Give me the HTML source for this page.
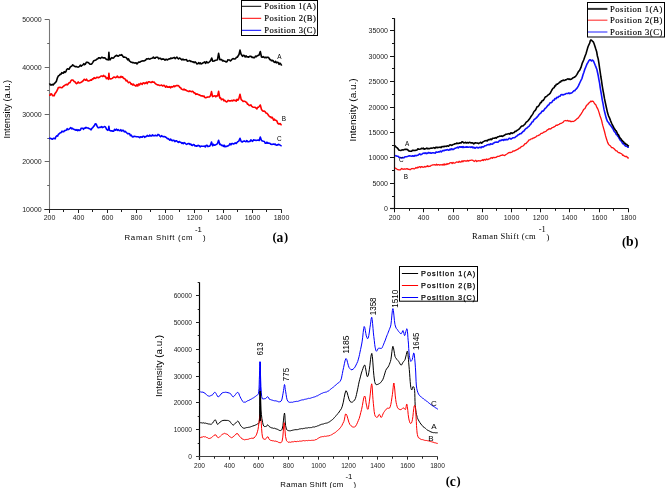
<!DOCTYPE html>
<html><head><meta charset="utf-8"><style>
html,body{margin:0;padding:0;background:#fff;}
svg{display:block;filter:blur(0.35px);}
text{font-family:"Liberation Sans",sans-serif;fill:#000;}
.tk{font-size:7px;fill:#222;}
.tkc{font-size:6.6px;fill:#222;}
.lb{font-size:6.4px;}
.lbc{font-size:8px;}
.lga{font-family:"Liberation Serif",serif;font-size:8.6px;stroke:#000;stroke-width:0.15px;}
.lgc{font-size:7.3px;stroke:#000;stroke-width:0.25px;}
.yt{font-size:9.3px;}
.xt{font-size:7.8px;}
.xts{font-family:"Liberation Serif",serif;font-size:8.5px;}
.pk{font-size:8.6px;}
.ttl{font-family:"Liberation Serif",serif;font-weight:bold;font-size:13.6px;}
</style></head>
<body><svg width="667" height="488" viewBox="0 0 667 488">
<rect width="667" height="488" fill="#fff"/>
<path d="M49.5,19.7 V209.5" fill="none" stroke="#777" stroke-width="1.1"/>
<path d="M44.3,209.5 H281.59999999999997" fill="none" stroke="#222" stroke-width="1"/>
<text x="41.7" y="211.9" class="tk" text-anchor="end">10000</text>
<path d="M47.2,185.5 H49.5" stroke="#666" stroke-width="1"/>
<path d="M44.7,161.5 H49.5" stroke="#666" stroke-width="1"/>
<text x="41.7" y="163.9" class="tk" text-anchor="end">20000</text>
<path d="M47.2,138.5 H49.5" stroke="#666" stroke-width="1"/>
<path d="M44.7,114.5 H49.5" stroke="#666" stroke-width="1"/>
<text x="41.7" y="116.9" class="tk" text-anchor="end">30000</text>
<path d="M47.2,90.5 H49.5" stroke="#666" stroke-width="1"/>
<path d="M44.7,67.5 H49.5" stroke="#666" stroke-width="1"/>
<text x="41.7" y="69.9" class="tk" text-anchor="end">40000</text>
<path d="M47.2,43.5 H49.5" stroke="#666" stroke-width="1"/>
<path d="M44.7,19.5 H49.5" stroke="#666" stroke-width="1"/>
<text x="41.7" y="21.9" class="tk" text-anchor="end">50000</text>
<path d="M49.5,209.5 V213.0" stroke="#222" stroke-width="1"/>
<text x="49.5" y="220.4" class="tk" text-anchor="middle">200</text>
<path d="M63.5,209.5 V212.0" stroke="#222" stroke-width="1"/>
<path d="M78.5,209.5 V213.0" stroke="#222" stroke-width="1"/>
<text x="78.5" y="220.4" class="tk" text-anchor="middle">400</text>
<path d="M92.5,209.5 V212.0" stroke="#222" stroke-width="1"/>
<path d="M107.5,209.5 V213.0" stroke="#222" stroke-width="1"/>
<text x="107.5" y="220.4" class="tk" text-anchor="middle">600</text>
<path d="M121.5,209.5 V212.0" stroke="#222" stroke-width="1"/>
<path d="M136.5,209.5 V213.0" stroke="#222" stroke-width="1"/>
<text x="136.5" y="220.4" class="tk" text-anchor="middle">800</text>
<path d="M150.5,209.5 V212.0" stroke="#222" stroke-width="1"/>
<path d="M165.5,209.5 V213.0" stroke="#222" stroke-width="1"/>
<text x="165.5" y="220.4" class="tk" text-anchor="middle">1000</text>
<path d="M179.5,209.5 V212.0" stroke="#222" stroke-width="1"/>
<path d="M194.5,209.5 V213.0" stroke="#222" stroke-width="1"/>
<text x="194.5" y="220.4" class="tk" text-anchor="middle">1200</text>
<path d="M208.5,209.5 V212.0" stroke="#222" stroke-width="1"/>
<path d="M223.5,209.5 V213.0" stroke="#222" stroke-width="1"/>
<text x="223.5" y="220.4" class="tk" text-anchor="middle">1400</text>
<path d="M237.5,209.5 V212.0" stroke="#222" stroke-width="1"/>
<path d="M252.5,209.5 V213.0" stroke="#222" stroke-width="1"/>
<text x="252.5" y="220.4" class="tk" text-anchor="middle">1600</text>
<path d="M266.5,209.5 V212.0" stroke="#222" stroke-width="1"/>
<path d="M281.5,209.5 V213.0" stroke="#222" stroke-width="1"/>
<text x="281.5" y="220.4" class="tk" text-anchor="middle">1800</text>
<path d="M49.5,83.3 L50.4,84.9 L51.4,85.0 L52.3,84.3 L53.2,85.0 L54.2,83.6 L55.3,82.6 L56.3,81.5 L57.3,78.2 L58.3,76.0 L59.3,75.4 L60.1,74.3 L60.9,74.5 L61.8,72.7 L62.6,73.1 L63.4,73.2 L64.2,71.7 L65.0,72.4 L65.9,71.7 L66.7,69.5 L67.5,68.8 L68.3,69.1 L69.2,69.1 L70.0,67.4 L70.9,66.5 L71.8,66.1 L72.6,64.8 L73.5,65.4 L74.3,66.2 L75.2,66.6 L76.1,66.5 L76.9,66.8 L77.8,67.1 L78.7,67.0 L79.5,66.2 L80.3,65.2 L81.2,66.2 L82.1,65.2 L82.9,64.9 L83.8,63.6 L84.6,64.7 L85.5,64.0 L86.3,62.3 L87.2,62.2 L88.0,62.5 L89.0,63.2 L90.0,64.3 L91.0,64.1 L91.8,63.9 L92.7,62.6 L93.5,61.0 L94.4,60.6 L95.2,60.2 L96.0,59.9 L96.9,59.0 L97.8,58.9 L98.6,57.7 L99.5,57.8 L100.3,58.5 L101.1,57.7 L101.9,57.2 L102.8,57.7 L103.6,57.9 L104.4,57.7 L105.4,58.2 L106.4,59.4 L107.4,59.5 L108.4,60.0 L108.9,52.2 L109.4,59.3 L110.1,59.8 L111.0,58.3 L111.9,57.6 L112.8,58.1 L113.7,57.9 L114.6,56.6 L115.5,56.0 L116.4,55.3 L117.3,55.7 L118.1,56.3 L119.0,55.7 L119.9,55.0 L120.8,55.3 L121.7,54.7 L122.5,55.8 L123.4,57.1 L124.3,57.0 L125.2,57.3 L126.0,57.5 L126.9,58.5 L127.7,59.8 L128.5,58.8 L129.4,60.8 L130.2,61.5 L131.0,62.2 L131.8,62.3 L132.7,62.8 L133.6,62.6 L134.4,63.0 L135.2,63.1 L136.1,62.8 L137.0,63.9 L137.8,63.0 L138.7,62.0 L139.6,62.2 L140.4,61.8 L141.3,61.2 L142.2,60.9 L143.0,61.0 L143.9,60.9 L144.8,60.6 L145.7,60.0 L146.5,58.9 L147.4,59.0 L148.2,58.6 L149.1,59.0 L149.9,59.1 L150.8,58.6 L151.7,58.3 L152.5,58.0 L153.4,57.1 L154.3,58.3 L155.2,58.1 L156.0,57.2 L156.9,57.2 L157.8,57.4 L158.7,58.9 L159.6,58.2 L160.5,58.2 L161.4,59.4 L162.3,59.1 L163.2,58.9 L164.1,59.3 L165.0,60.2 L165.8,59.4 L166.6,59.4 L167.4,60.0 L168.2,59.3 L169.0,58.9 L169.9,59.0 L170.8,58.0 L171.6,58.5 L172.5,58.3 L173.4,57.7 L174.3,57.4 L175.1,58.7 L176.0,57.8 L176.9,57.1 L177.7,58.2 L178.5,59.0 L179.4,58.0 L180.2,58.4 L181.0,59.1 L181.9,60.0 L182.9,59.0 L183.9,59.9 L184.8,59.8 L185.6,59.8 L186.5,59.5 L187.3,61.1 L188.2,61.0 L189.0,60.8 L189.8,60.5 L190.7,61.5 L191.5,61.3 L192.4,61.9 L193.3,61.8 L194.2,62.6 L195.1,61.9 L196.0,62.6 L196.8,63.9 L197.7,63.7 L198.6,62.7 L199.4,63.7 L200.2,62.8 L201.1,63.9 L202.0,63.6 L202.8,63.0 L203.7,62.6 L204.7,61.9 L205.6,63.3 L206.5,61.6 L207.5,62.8 L208.4,62.8 L209.5,61.7 L210.6,60.6 L211.7,58.0 L212.8,61.3 L214.1,61.0 L214.9,60.5 L215.8,60.2 L216.7,60.0 L217.5,59.7 L218.6,53.3 L219.8,59.6 L220.7,59.5 L221.6,59.6 L222.6,60.9 L223.5,60.6 L224.4,61.3 L225.3,61.3 L226.2,62.0 L227.0,61.8 L227.8,59.9 L228.7,60.0 L229.6,60.0 L230.4,60.9 L231.2,60.3 L232.1,59.2 L233.0,58.6 L233.9,59.0 L234.7,58.9 L235.6,58.7 L236.5,57.2 L237.3,57.2 L238.2,55.8 L239.0,54.5 L240.0,50.1 L241.0,54.0 L242.5,56.4 L243.4,55.3 L244.3,55.6 L245.2,57.0 L246.1,55.8 L247.0,56.9 L247.9,56.7 L248.7,57.2 L249.6,56.4 L250.4,56.4 L251.2,56.4 L252.1,57.5 L252.9,57.1 L253.8,57.8 L254.6,57.7 L255.5,56.1 L256.4,56.7 L257.2,55.7 L258.1,55.4 L259.0,55.2 L260.3,51.5 L261.5,57.0 L262.3,57.3 L263.2,56.6 L264.0,57.3 L264.9,57.8 L265.7,57.2 L266.5,57.8 L267.4,57.3 L268.2,57.2 L269.0,58.1 L269.8,59.7 L270.6,59.6 L271.4,60.7 L272.2,60.4 L273.0,60.5 L273.8,61.9 L274.7,62.4 L275.6,61.3 L276.4,62.8 L277.3,62.2 L278.2,62.6 L279.1,64.4 L279.9,63.2 L280.8,64.0 L281.7,65.7" fill="none" stroke="#000" stroke-width="1.6" stroke-linejoin="round"/>
<path d="M49.1,95.1 L50.0,95.3 L50.8,93.8 L51.7,94.1 L52.5,95.6 L53.4,95.6 L54.2,95.6 L55.0,93.5 L55.8,92.6 L56.7,91.2 L57.5,89.7 L58.3,87.5 L59.1,87.6 L60.0,87.2 L60.8,87.5 L61.7,87.7 L62.5,87.2 L63.4,86.2 L64.2,85.8 L65.0,85.2 L65.9,84.6 L66.7,84.4 L67.5,84.9 L68.3,83.7 L69.1,82.7 L70.0,82.6 L70.8,81.0 L71.6,80.0 L72.4,80.0 L73.2,80.3 L74.1,81.4 L74.9,81.7 L75.7,83.0 L76.5,83.7 L77.4,83.0 L78.2,81.9 L79.1,83.0 L80.0,82.7 L80.8,82.4 L81.6,82.1 L82.4,81.2 L83.3,80.7 L84.1,79.3 L84.9,79.8 L85.7,80.2 L86.5,79.1 L87.4,80.6 L88.2,81.0 L89.0,80.9 L89.8,80.5 L90.7,79.9 L91.5,80.2 L92.4,78.9 L93.2,79.0 L94.1,77.6 L95.0,78.4 L95.8,78.3 L96.7,77.3 L97.6,77.4 L98.4,77.8 L99.3,77.3 L100.2,76.7 L101.0,76.0 L101.8,76.0 L102.7,76.5 L103.6,75.4 L104.4,76.5 L105.4,76.4 L106.4,78.6 L107.4,77.9 L108.4,79.3 L108.9,73.2 L109.4,78.5 L110.5,78.9 L111.4,78.8 L112.2,78.4 L113.1,77.6 L114.0,77.0 L114.8,77.3 L115.7,77.7 L116.6,77.1 L117.4,76.1 L118.3,77.5 L119.2,77.3 L120.1,77.6 L120.9,76.3 L121.8,77.3 L122.7,76.8 L123.5,78.5 L124.3,78.5 L125.2,79.1 L126.1,81.0 L126.9,80.3 L127.7,81.6 L128.5,82.7 L129.4,82.1 L130.2,82.5 L131.0,84.2 L131.8,83.9 L132.6,85.0 L133.5,84.2 L134.3,85.3 L135.1,85.5 L136.0,86.1 L136.9,84.7 L137.8,86.0 L138.6,84.0 L139.5,85.0 L140.4,83.4 L141.3,83.6 L142.2,84.4 L143.0,83.0 L143.9,82.9 L144.7,83.7 L145.6,83.0 L146.4,82.2 L147.2,83.7 L148.1,82.0 L148.9,81.7 L149.8,82.1 L150.7,82.4 L151.5,82.4 L152.3,81.6 L153.2,82.3 L154.1,82.1 L154.9,83.1 L155.8,84.0 L156.6,84.3 L157.4,84.9 L158.3,84.9 L159.2,85.4 L160.0,85.5 L160.8,85.3 L161.6,85.0 L162.5,86.0 L163.3,85.6 L164.1,85.4 L164.9,86.2 L165.7,87.2 L166.5,86.0 L167.4,87.1 L168.2,86.9 L169.0,87.3 L169.8,86.6 L170.6,87.9 L171.5,86.6 L172.3,87.1 L173.1,86.7 L173.9,85.8 L174.7,86.7 L175.5,85.9 L176.4,85.6 L177.2,85.5 L178.0,85.6 L178.8,85.9 L179.7,87.4 L180.6,87.6 L181.4,89.0 L182.2,89.4 L183.1,89.9 L184.0,89.0 L184.8,89.9 L185.6,89.8 L186.5,90.6 L187.3,90.9 L188.2,91.4 L189.0,91.5 L189.8,90.9 L190.7,91.4 L191.5,91.8 L192.3,91.3 L193.2,91.8 L194.1,92.9 L194.9,92.8 L195.8,94.3 L196.6,93.9 L197.5,94.1 L198.3,94.6 L199.1,94.9 L199.9,95.1 L200.8,95.8 L201.6,95.9 L202.4,95.8 L203.2,96.5 L204.0,96.0 L204.8,97.4 L205.7,97.7 L206.5,97.4 L207.3,97.1 L208.4,97.0 L209.4,96.9 L210.5,95.7 L211.5,91.6 L212.6,96.6 L214.1,96.0 L215.0,95.7 L215.8,96.8 L216.7,95.9 L217.6,96.0 L218.6,91.3 L219.8,98.0 L220.6,97.9 L221.4,99.7 L222.2,99.2 L223.1,99.0 L223.9,100.8 L224.7,100.3 L225.5,101.2 L226.4,102.0 L227.3,101.6 L228.2,100.3 L229.1,100.9 L230.0,100.7 L230.9,100.9 L231.8,100.3 L232.6,101.0 L233.5,100.1 L234.4,100.4 L235.3,100.3 L236.2,101.1 L237.0,99.3 L237.9,100.2 L238.8,98.9 L240.0,94.2 L241.2,99.6 L242.1,100.3 L243.1,101.4 L244.0,101.3 L244.9,101.3 L245.7,101.9 L246.6,102.3 L247.5,104.2 L248.4,104.4 L249.2,105.5 L250.1,105.5 L250.9,104.8 L251.8,106.3 L252.6,106.9 L253.5,107.3 L254.3,107.3 L255.2,107.4 L256.0,108.0 L256.9,109.0 L257.7,107.4 L258.5,107.2 L259.3,106.5 L260.3,105.0 L261.5,109.5 L262.5,110.8 L263.4,111.3 L264.3,111.1 L265.1,111.7 L266.0,112.9 L266.9,113.2 L267.8,114.3 L268.6,115.5 L269.5,116.6 L270.4,116.8 L271.2,117.8 L272.0,117.2 L272.8,118.3 L273.6,120.1 L274.4,119.2 L275.2,120.3 L276.0,120.3 L276.9,121.0 L277.7,123.1 L278.5,123.9 L279.3,123.9 L280.1,123.6 L280.9,124.6 L281.7,125.1" fill="none" stroke="#f00" stroke-width="1.6" stroke-linejoin="round"/>
<path d="M49.1,137.8 L50.0,138.5 L50.8,138.4 L51.7,139.0 L52.5,139.2 L53.4,138.4 L54.2,138.4 L55.1,138.9 L55.9,136.8 L56.8,135.8 L57.6,136.1 L58.4,134.2 L59.3,133.8 L60.2,132.7 L61.1,132.6 L62.0,131.2 L62.8,131.7 L63.7,131.6 L64.6,130.6 L65.5,130.5 L66.4,130.1 L67.2,128.7 L68.1,129.7 L69.0,129.1 L69.9,128.3 L70.7,127.5 L71.6,128.8 L72.5,128.3 L73.4,129.1 L74.3,129.6 L75.1,129.6 L76.0,130.3 L76.9,129.6 L77.8,130.6 L78.6,129.8 L79.4,130.4 L80.3,130.1 L81.1,128.4 L81.9,128.2 L82.7,128.2 L83.5,129.3 L84.4,128.1 L85.2,128.2 L86.0,127.3 L86.8,127.9 L87.7,128.0 L88.5,128.1 L89.4,128.8 L90.2,129.0 L91.1,129.8 L91.9,128.3 L92.7,127.7 L93.6,126.4 L94.4,125.6 L95.2,123.9 L96.2,124.1 L97.2,126.5 L98.2,127.8 L99.1,127.7 L100.0,127.1 L100.9,127.4 L101.7,126.5 L102.6,127.6 L103.5,127.1 L104.4,126.6 L105.5,127.0 L106.5,129.2 L107.6,130.3 L108.4,129.3 L108.9,126.3 L109.4,130.3 L111.0,130.9 L111.9,130.8 L112.8,131.3 L113.7,131.1 L114.6,129.3 L115.5,130.2 L116.4,129.2 L117.3,130.3 L118.1,129.6 L119.0,130.5 L119.9,130.6 L120.8,129.7 L121.7,131.1 L122.5,130.4 L123.4,130.4 L124.3,131.9 L125.2,131.4 L126.0,132.2 L126.9,133.0 L127.8,133.8 L128.7,133.5 L129.6,133.7 L130.4,135.6 L131.3,135.1 L132.2,136.7 L133.1,137.0 L133.9,136.2 L134.7,136.4 L135.6,136.5 L136.4,136.8 L137.2,136.8 L138.0,136.8 L138.8,137.0 L139.7,137.7 L140.5,136.9 L141.3,136.9 L142.2,137.3 L143.0,136.3 L143.9,136.3 L144.7,137.4 L145.6,136.5 L146.4,136.4 L147.2,135.4 L148.1,136.0 L148.9,136.2 L149.8,135.1 L150.7,136.0 L151.5,135.9 L152.3,134.9 L153.1,135.8 L153.9,135.5 L154.8,135.8 L155.6,135.2 L156.4,135.8 L157.2,135.8 L158.0,134.4 L158.9,134.7 L159.8,136.0 L160.6,136.8 L161.5,135.7 L162.4,136.3 L163.2,136.7 L164.1,136.5 L165.0,136.8 L165.8,137.2 L166.6,137.8 L167.4,138.7 L168.2,138.6 L169.0,139.3 L169.8,140.2 L170.7,139.1 L171.5,140.3 L172.4,140.8 L173.2,140.3 L174.1,140.3 L174.9,141.6 L175.8,140.8 L176.6,140.9 L177.5,141.6 L178.3,142.3 L179.2,141.5 L180.0,142.1 L180.8,142.3 L181.7,143.3 L182.5,142.8 L183.3,143.7 L184.2,142.6 L185.0,143.1 L185.8,143.8 L186.7,144.4 L187.5,143.8 L188.3,143.6 L189.2,143.6 L190.0,144.5 L190.8,144.0 L191.7,145.3 L192.5,145.5 L193.3,144.5 L194.2,144.8 L195.0,146.0 L195.9,145.8 L196.7,146.3 L197.6,145.6 L198.4,145.4 L199.3,145.8 L200.1,146.9 L201.0,146.1 L201.9,146.2 L202.7,146.2 L203.6,146.2 L204.4,146.1 L205.3,147.0 L206.1,145.5 L207.0,145.2 L207.9,146.6 L208.8,146.2 L209.6,146.2 L210.5,144.9 L211.5,142.0 L212.6,145.8 L213.4,144.3 L214.2,145.1 L215.1,145.1 L215.9,144.6 L216.7,144.2 L217.5,143.6 L218.6,140.2 L219.8,144.5 L220.7,144.4 L221.5,145.5 L222.4,145.2 L223.3,146.3 L224.1,145.1 L225.0,146.8 L225.8,146.2 L226.7,146.4 L227.5,146.1 L228.3,145.8 L229.2,145.0 L230.0,143.7 L230.9,144.8 L231.8,143.6 L232.6,143.6 L233.5,144.0 L234.4,143.5 L235.3,142.9 L236.2,143.5 L237.0,142.5 L237.9,141.6 L238.8,141.1 L240.0,138.3 L241.2,141.5 L242.3,142.0 L243.4,141.2 L244.2,140.9 L245.1,141.4 L245.9,141.8 L246.8,140.6 L247.6,141.6 L248.4,141.7 L249.3,141.4 L250.1,141.4 L250.9,139.9 L251.8,140.9 L252.6,141.3 L253.5,139.8 L254.3,140.2 L255.2,140.1 L256.0,140.5 L257.1,140.2 L258.1,140.1 L259.2,140.5 L260.3,137.1 L261.5,140.4 L262.6,140.9 L263.6,141.3 L264.4,141.5 L265.3,143.3 L266.1,143.3 L266.9,142.2 L267.7,143.1 L268.6,143.0 L269.4,143.3 L270.2,143.6 L271.0,144.3 L271.9,144.4 L272.7,144.2 L273.5,144.0 L274.3,144.4 L275.2,144.1 L276.0,145.0 L276.8,145.3 L277.6,144.8 L278.4,144.4 L279.2,144.6 L280.1,145.1 L280.9,145.6 L281.7,146.0" fill="none" stroke="#00f" stroke-width="1.6" stroke-linejoin="round"/>
<text x="279.4" y="58.8" class="lb" text-anchor="middle">A</text>
<text x="283.9" y="121.2" class="lb" text-anchor="middle">B</text>
<text x="279.4" y="141" class="lb" text-anchor="middle">C</text>
<rect x="241.5" y="0.5" width="76" height="35" fill="#fff" stroke="#000" stroke-width="1"/>
<path d="M242,6.3 H261.2" stroke="#000" stroke-width="1"/>
<text x="264.2" y="9.4" class="lga" textLength="51.6" lengthAdjust="spacing">Position 1(A)</text>
<path d="M242,18.3 H261.2" stroke="#f00" stroke-width="1"/>
<text x="264.2" y="21.4" class="lga" textLength="51.6" lengthAdjust="spacing">Position 2(B)</text>
<path d="M242,30.3 H261.2" stroke="#00f" stroke-width="1"/>
<text x="264.2" y="33.4" class="lga" textLength="51.6" lengthAdjust="spacing">Position 3(C)</text>
<text transform="translate(10,138.6) rotate(-90)" class="yt" textLength="58.6" lengthAdjust="spacingAndGlyphs">Intensity (a.u.)</text>
<text x="124.5" y="239.8" class="xt" textLength="68" lengthAdjust="spacing">Raman Shift (cm</text>
<text x="195" y="232.4" class="xt">-1</text>
<text x="203" y="239.6" class="xt">)</text>
<text x="272.4" y="242.2" class="ttl"><tspan style="font-size:12.4px" dy="-0.9">(</tspan><tspan dy="0.9">a</tspan><tspan style="font-size:12.4px" dx="0.7" dy="-0.9">)</tspan></text>
<path d="M394.5,18.2 V208.5 H628.5" fill="none" stroke="#111" stroke-width="1.2"/>
<path d="M390,208.5 H394.5" stroke="#111" stroke-width="1.2"/>
<path d="M390.0,208.5 H394.5" stroke="#111" stroke-width="1"/>
<text x="388" y="210.9" class="tk" text-anchor="end">0</text>
<path d="M392.0,196.5 H394.5" stroke="#111" stroke-width="1"/>
<path d="M390.0,183.5 H394.5" stroke="#111" stroke-width="1"/>
<text x="388" y="185.9" class="tk" text-anchor="end">5000</text>
<path d="M392.0,170.5 H394.5" stroke="#111" stroke-width="1"/>
<path d="M390.0,157.5 H394.5" stroke="#111" stroke-width="1"/>
<text x="388" y="159.9" class="tk" text-anchor="end">10000</text>
<path d="M392.0,145.5 H394.5" stroke="#111" stroke-width="1"/>
<path d="M390.0,132.5 H394.5" stroke="#111" stroke-width="1"/>
<text x="388" y="134.9" class="tk" text-anchor="end">15000</text>
<path d="M392.0,119.5 H394.5" stroke="#111" stroke-width="1"/>
<path d="M390.0,107.5 H394.5" stroke="#111" stroke-width="1"/>
<text x="388" y="109.9" class="tk" text-anchor="end">20000</text>
<path d="M392.0,94.5 H394.5" stroke="#111" stroke-width="1"/>
<path d="M390.0,81.5 H394.5" stroke="#111" stroke-width="1"/>
<text x="388" y="83.9" class="tk" text-anchor="end">25000</text>
<path d="M392.0,68.5 H394.5" stroke="#111" stroke-width="1"/>
<path d="M390.0,56.5 H394.5" stroke="#111" stroke-width="1"/>
<text x="388" y="58.9" class="tk" text-anchor="end">30000</text>
<path d="M392.0,43.5 H394.5" stroke="#111" stroke-width="1"/>
<path d="M390.0,30.5 H394.5" stroke="#111" stroke-width="1"/>
<text x="388" y="32.9" class="tk" text-anchor="end">35000</text>
<path d="M392.0,18.5 H394.5" stroke="#111" stroke-width="1"/>
<path d="M394.5,208.5 V212.3" stroke="#111" stroke-width="1"/>
<text x="394.5" y="220" class="tk" text-anchor="middle">200</text>
<path d="M409.5,208.5 V210.8" stroke="#111" stroke-width="1"/>
<path d="M423.5,208.5 V212.3" stroke="#111" stroke-width="1"/>
<text x="423.5" y="220" class="tk" text-anchor="middle">400</text>
<path d="M438.5,208.5 V210.8" stroke="#111" stroke-width="1"/>
<path d="M453.5,208.5 V212.3" stroke="#111" stroke-width="1"/>
<text x="453.5" y="220" class="tk" text-anchor="middle">600</text>
<path d="M467.5,208.5 V210.8" stroke="#111" stroke-width="1"/>
<path d="M482.5,208.5 V212.3" stroke="#111" stroke-width="1"/>
<text x="482.5" y="220" class="tk" text-anchor="middle">800</text>
<path d="M496.5,208.5 V210.8" stroke="#111" stroke-width="1"/>
<path d="M511.5,208.5 V212.3" stroke="#111" stroke-width="1"/>
<text x="511.5" y="220" class="tk" text-anchor="middle">1000</text>
<path d="M526.5,208.5 V210.8" stroke="#111" stroke-width="1"/>
<path d="M540.5,208.5 V212.3" stroke="#111" stroke-width="1"/>
<text x="540.5" y="220" class="tk" text-anchor="middle">1200</text>
<path d="M555.5,208.5 V210.8" stroke="#111" stroke-width="1"/>
<path d="M569.5,208.5 V212.3" stroke="#111" stroke-width="1"/>
<text x="569.5" y="220" class="tk" text-anchor="middle">1400</text>
<path d="M584.5,208.5 V210.8" stroke="#111" stroke-width="1"/>
<path d="M599.5,208.5 V212.3" stroke="#111" stroke-width="1"/>
<text x="599.5" y="220" class="tk" text-anchor="middle">1600</text>
<path d="M613.5,208.5 V210.8" stroke="#111" stroke-width="1"/>
<path d="M628.5,208.5 V212.3" stroke="#111" stroke-width="1"/>
<text x="628.5" y="220" class="tk" text-anchor="middle">1800</text>
<path d="M395.0,167.8 L395.7,168.4 L396.7,169.0 L397.8,169.7 L399.0,169.8 L400.3,169.9 L401.6,168.5 L402.3,168.9 L403.0,169.3 L404.4,168.8 L405.7,169.2 L407.0,168.6 L408.3,169.4 L409.1,169.2 L409.8,169.6 L410.6,169.5 L411.4,168.6 L412.3,168.6 L413.2,168.5 L414.1,169.0 L415.0,168.5 L416.0,167.5 L417.0,168.1 L417.7,167.1 L418.4,167.6 L419.1,166.9 L419.9,166.6 L420.6,167.6 L421.4,166.7 L422.2,166.6 L422.9,167.4 L423.7,167.2 L424.5,166.4 L425.2,167.1 L426.0,166.4 L426.8,166.5 L427.5,165.8 L428.2,166.6 L429.0,166.1 L429.8,166.3 L430.5,166.1 L431.2,165.3 L432.0,165.2 L432.8,164.9 L433.5,164.8 L434.2,164.6 L435.0,164.8 L435.8,165.1 L436.5,164.3 L437.2,165.1 L438.0,164.7 L438.8,164.6 L439.5,165.2 L440.2,164.8 L441.0,164.6 L441.8,164.8 L442.5,165.0 L443.2,164.1 L444.0,165.2 L444.8,163.9 L445.5,164.7 L446.2,164.7 L447.0,163.5 L447.8,164.3 L448.5,163.6 L449.2,163.7 L450.0,162.8 L450.8,162.7 L451.5,162.7 L452.2,163.5 L453.0,162.4 L453.8,163.0 L454.5,163.1 L455.3,162.9 L456.1,162.1 L456.8,162.0 L457.6,162.1 L458.4,162.3 L459.1,161.3 L459.9,162.0 L460.6,162.0 L461.3,161.9 L462.0,160.8 L462.9,161.8 L463.9,160.6 L464.7,160.8 L465.6,161.0 L466.5,161.2 L467.3,160.4 L468.3,161.1 L469.2,160.6 L469.9,160.3 L470.6,160.3 L471.3,160.2 L472.1,160.1 L472.8,160.3 L473.6,161.0 L474.4,161.5 L475.1,160.5 L475.9,160.5 L476.7,161.6 L477.4,161.0 L478.2,160.9 L478.9,160.6 L479.7,160.9 L480.4,161.1 L481.1,160.5 L481.9,160.4 L482.6,159.8 L483.3,160.6 L484.1,159.4 L484.8,159.8 L485.6,160.0 L486.4,159.0 L487.2,159.5 L488.1,159.5 L489.0,158.9 L489.9,158.9 L490.6,157.9 L491.3,158.1 L492.0,157.5 L492.7,158.2 L493.4,157.3 L494.1,157.3 L494.8,157.8 L495.5,157.4 L496.3,157.3 L497.2,156.5 L498.0,156.3 L499.0,156.4 L500.0,155.8 L500.8,155.4 L501.7,155.4 L502.5,154.9 L503.3,155.1 L504.1,155.5 L505.0,155.3 L506.0,154.5 L506.9,154.0 L507.9,153.3 L508.9,152.6 L510.0,152.4 L511.0,152.5 L512.0,152.1 L513.0,151.0 L514.0,151.1 L515.0,150.6 L516.0,150.1 L517.0,149.6 L518.0,149.2 L519.0,148.2 L520.0,148.0 L521.0,146.9 L522.0,146.4 L523.0,146.0 L524.0,145.0 L525.0,143.6 L526.0,143.5 L527.0,142.3 L528.0,141.4 L529.0,139.9 L530.0,139.9 L531.0,138.9 L532.0,138.9 L533.0,138.1 L534.0,138.0 L535.0,137.3 L536.0,136.9 L537.0,135.8 L538.0,135.6 L539.0,135.1 L540.0,134.6 L541.0,133.4 L542.0,133.4 L543.0,132.8 L544.0,132.0 L545.0,131.8 L546.0,131.2 L547.0,130.2 L548.0,129.7 L549.0,128.7 L550.0,129.1 L551.0,128.7 L552.0,127.7 L553.0,127.4 L554.0,126.9 L555.1,126.4 L556.1,125.2 L557.1,125.4 L558.1,124.7 L559.2,124.3 L560.1,123.6 L561.0,123.3 L561.8,123.1 L562.6,122.5 L563.3,122.2 L564.0,121.0 L565.4,120.5 L566.1,120.7 L566.8,120.8 L567.6,120.4 L568.3,121.0 L569.1,121.2 L569.9,120.8 L570.6,121.6 L571.4,121.5 L572.2,121.3 L572.9,121.5 L573.6,121.4 L574.3,121.0 L575.6,120.1 L577.0,118.7 L578.3,117.9 L579.6,116.0 L581.0,114.2 L582.3,112.0 L583.6,109.6 L585.0,108.5 L586.4,105.6 L587.7,104.5 L588.9,103.0 L589.9,102.2 L590.7,101.1 L591.5,101.6 L592.4,101.2 L593.5,101.7 L594.6,103.7 L595.8,104.8 L596.9,107.4 L598.0,109.4 L599.0,112.4 L600.0,115.7 L600.9,118.3 L601.6,120.4 L602.3,123.5 L602.9,125.9 L603.6,128.4 L604.5,131.5 L605.5,135.7 L606.6,139.2 L607.6,142.4 L608.6,144.4 L609.5,145.3 L610.5,146.0 L611.6,147.7 L612.8,147.7 L614.1,148.8 L615.5,150.3 L616.2,150.9 L616.9,150.8 L617.7,151.9 L618.5,152.7 L619.3,152.6 L620.2,153.2 L621.0,153.5 L621.9,154.0 L622.7,155.3 L623.5,155.1 L624.3,156.2 L625.1,156.5 L625.8,156.5 L626.6,156.5 L628.0,158.0 L628.9,157.9" fill="none" stroke="#f11" stroke-width="1.3" stroke-linejoin="round"/>
<path d="M395.0,155.5 L395.5,155.8 L396.3,155.9 L397.2,156.2 L398.1,156.3 L399.1,157.4 L400.2,157.5 L401.4,158.1 L402.6,157.6 L403.9,157.8 L405.2,156.7 L406.6,156.7 L408.0,156.3 L409.3,155.8 L410.6,156.0 L411.9,156.3 L412.7,155.7 L413.4,156.1 L414.2,156.2 L415.1,155.4 L416.0,155.8 L416.9,155.4 L417.8,155.3 L418.8,154.5 L419.7,153.9 L420.6,154.6 L421.5,154.4 L422.4,153.8 L423.2,153.2 L424.1,153.1 L425.0,153.5 L425.9,152.9 L426.8,153.6 L427.8,153.0 L428.5,152.5 L429.2,153.0 L430.0,152.6 L430.7,153.2 L431.5,153.2 L432.3,152.7 L433.1,152.8 L433.9,152.9 L434.6,153.0 L435.4,153.1 L436.1,151.9 L436.8,152.2 L437.7,152.3 L438.7,151.8 L439.5,151.9 L440.4,151.1 L441.3,151.8 L442.1,151.1 L443.1,150.4 L444.0,150.8 L444.7,150.2 L445.4,150.0 L446.2,150.2 L446.9,149.7 L447.7,149.6 L448.5,150.3 L449.3,150.0 L450.1,149.0 L450.8,149.8 L451.6,148.8 L452.3,149.0 L453.0,149.6 L453.9,149.0 L454.9,148.3 L455.7,148.1 L456.6,147.8 L457.5,147.2 L458.3,148.0 L459.3,146.7 L460.2,146.9 L460.9,147.2 L461.6,146.8 L462.3,147.4 L463.1,146.5 L463.8,147.4 L464.6,147.3 L465.4,147.0 L466.1,147.3 L466.9,146.8 L467.7,147.3 L468.4,147.3 L469.2,147.0 L469.9,147.0 L470.7,147.4 L471.4,147.1 L472.2,146.9 L472.9,147.8 L473.7,147.3 L474.4,147.7 L475.2,148.2 L475.9,147.5 L476.7,147.3 L477.4,147.5 L478.2,148.0 L478.9,147.6 L479.7,147.3 L480.4,147.4 L481.1,147.8 L481.9,146.8 L482.6,146.7 L483.3,147.0 L484.1,146.4 L484.8,145.7 L485.6,145.7 L486.4,145.4 L487.2,144.8 L488.1,144.8 L489.0,144.4 L489.9,144.7 L490.6,143.9 L491.3,144.0 L492.0,144.2 L492.7,143.9 L493.4,143.0 L494.1,143.0 L494.8,142.4 L495.5,142.3 L496.3,142.1 L497.2,142.2 L498.0,142.1 L499.0,141.1 L500.0,140.4 L500.8,140.7 L501.7,140.0 L502.5,139.8 L503.3,140.5 L504.1,139.4 L505.0,140.0 L506.0,139.3 L506.9,139.8 L507.9,139.6 L508.9,138.4 L510.0,138.4 L511.0,139.1 L512.0,138.4 L513.0,137.8 L514.0,137.8 L515.0,137.4 L516.0,136.5 L517.0,136.0 L518.0,134.9 L519.0,134.6 L520.0,133.7 L521.0,133.6 L522.0,132.7 L523.0,131.4 L524.0,131.0 L525.0,129.5 L526.0,128.5 L527.0,128.1 L528.0,126.9 L529.0,126.4 L530.0,124.9 L531.0,123.9 L532.0,122.0 L533.0,121.7 L534.0,119.6 L535.0,119.0 L536.0,118.2 L537.0,117.1 L538.0,116.0 L539.0,114.5 L540.0,113.7 L541.0,112.9 L542.0,111.1 L543.0,111.1 L544.0,110.1 L545.0,108.5 L546.0,107.9 L547.0,106.5 L548.0,105.2 L549.0,104.7 L550.0,102.9 L551.0,102.8 L552.0,102.1 L553.0,100.3 L554.0,100.3 L555.0,98.5 L556.0,98.7 L557.0,97.3 L558.0,97.5 L559.0,96.2 L560.0,96.3 L561.0,94.7 L562.0,94.5 L563.0,95.0 L564.0,94.6 L565.0,94.3 L566.0,93.5 L567.0,93.5 L568.0,93.5 L568.9,92.9 L569.8,93.7 L570.7,93.1 L571.6,93.0 L572.4,92.3 L573.2,91.5 L574.1,90.7 L574.8,90.8 L575.6,89.4 L576.3,89.1 L577.1,88.1 L578.4,85.9 L579.7,83.0 L580.9,80.5 L582.0,78.3 L583.0,74.7 L583.9,72.3 L584.9,69.1 L585.9,66.7 L587.0,64.0 L588.0,62.4 L588.9,60.7 L589.7,59.8 L590.3,59.7 L590.9,60.4 L591.5,61.0 L592.0,60.4 L592.4,60.0 L592.9,60.4 L593.5,61.1 L594.3,63.0 L595.2,65.3 L596.1,67.4 L596.9,69.6 L597.6,72.7 L598.3,76.0 L598.9,79.6 L599.6,83.2 L600.2,87.6 L600.8,91.0 L601.5,95.2 L602.2,99.6 L603.1,104.2 L604.0,109.4 L605.1,113.7 L606.2,118.1 L607.5,121.5 L608.8,122.8 L609.5,124.3 L610.2,125.0 L611.6,126.7 L612.9,128.7 L614.2,131.5 L615.5,132.7 L616.2,134.4 L616.9,134.7 L617.7,136.2 L618.5,136.9 L619.3,138.7 L620.2,140.2 L621.0,140.7 L621.9,142.2 L622.7,143.6 L623.5,143.8 L624.3,144.7 L625.1,145.6 L625.8,146.3 L626.6,146.0 L628.0,147.3 L628.9,147.2" fill="none" stroke="#11f" stroke-width="1.6" stroke-linejoin="round"/>
<path d="M395.0,145.8 L395.4,146.0 L395.9,147.0 L396.5,147.4 L397.2,147.9 L398.0,148.8 L398.8,150.0 L399.7,150.3 L400.8,150.5 L402.0,149.9 L403.4,150.0 L404.1,149.6 L404.8,149.4 L406.2,149.2 L407.5,149.6 L408.8,150.9 L410.1,151.2 L410.9,151.2 L411.6,151.3 L412.4,150.4 L413.3,150.4 L414.2,150.5 L415.1,150.4 L416.0,150.3 L417.0,150.0 L417.9,148.8 L418.8,149.2 L419.7,149.2 L420.6,148.9 L421.4,148.4 L422.3,148.6 L423.2,148.1 L424.1,149.1 L425.0,148.9 L426.0,148.5 L426.7,148.1 L427.4,148.8 L428.1,148.4 L428.9,148.7 L429.6,148.6 L430.4,148.2 L431.2,148.0 L431.9,148.2 L432.7,148.0 L433.5,147.6 L434.2,147.7 L435.0,148.3 L435.8,147.3 L436.5,147.2 L437.2,147.8 L438.0,147.3 L438.8,147.5 L439.5,147.3 L440.2,147.0 L441.0,147.7 L441.8,146.6 L442.5,146.7 L443.2,146.4 L444.0,146.8 L444.8,146.2 L445.5,146.2 L446.3,146.5 L447.1,145.8 L447.8,146.0 L448.6,146.2 L449.4,145.1 L450.1,144.9 L450.9,145.0 L451.6,145.4 L452.3,145.1 L453.0,144.5 L454.0,144.3 L454.9,143.8 L455.8,143.8 L456.7,143.0 L457.6,143.5 L458.4,143.4 L459.3,143.3 L460.2,142.8 L461.1,143.0 L462.0,141.7 L462.9,142.1 L463.8,142.9 L464.7,142.7 L465.6,142.3 L466.5,143.0 L467.4,142.6 L468.3,143.0 L469.2,142.4 L470.2,142.5 L471.1,142.9 L472.0,142.7 L472.9,143.1 L473.8,143.9 L474.6,143.2 L475.3,142.8 L476.0,142.9 L477.3,143.0 L478.6,143.6 L479.3,143.0 L480.0,142.7 L480.8,142.3 L481.7,143.1 L482.6,142.2 L483.5,141.6 L484.4,141.1 L485.4,140.8 L486.3,140.6 L487.2,140.9 L488.1,139.9 L489.0,139.5 L489.9,139.7 L490.8,139.0 L491.7,139.6 L492.6,138.2 L493.5,138.3 L494.4,138.3 L495.3,137.6 L496.2,138.1 L497.1,137.2 L498.1,136.7 L498.9,136.7 L499.8,136.1 L500.7,136.3 L501.5,135.9 L502.2,136.4 L503.0,136.1 L504.3,135.3 L505.6,134.3 L507.0,134.1 L507.7,133.9 L508.4,133.7 L509.1,133.6 L509.8,134.2 L510.6,133.1 L511.3,132.8 L512.2,133.5 L513.0,132.7 L513.9,132.7 L514.9,131.4 L515.9,131.4 L516.9,130.5 L517.9,129.9 L519.0,129.1 L520.0,128.0 L521.0,126.7 L522.0,126.0 L523.0,125.9 L524.0,125.0 L525.0,124.1 L526.0,122.4 L527.0,121.7 L528.0,120.7 L529.0,119.4 L530.0,118.2 L531.0,116.5 L532.0,115.1 L533.0,113.6 L534.0,111.5 L535.0,110.7 L536.0,109.3 L537.0,106.8 L538.0,106.6 L539.1,105.2 L539.8,104.0 L540.5,102.5 L541.2,102.7 L542.2,100.6 L543.2,100.5 L544.1,99.1 L545.0,97.4 L545.8,96.7 L546.5,96.5 L547.8,95.2 L549.0,94.3 L550.3,93.1 L551.6,90.5 L552.9,88.4 L554.2,87.6 L554.9,85.7 L555.6,85.9 L556.4,84.2 L557.2,84.3 L558.0,83.6 L558.9,83.1 L559.7,82.1 L560.6,82.0 L561.4,80.7 L562.3,80.8 L563.1,80.1 L564.0,80.5 L564.8,80.2 L565.7,79.7 L566.5,79.7 L567.3,79.0 L568.1,78.9 L568.9,79.4 L569.6,79.1 L570.3,79.4 L571.7,78.9 L573.0,77.8 L574.3,77.2 L575.6,76.4 L577.0,74.4 L578.3,71.8 L579.6,70.4 L581.0,67.4 L582.3,63.1 L583.7,60.0 L584.9,56.5 L586.0,53.7 L587.1,49.9 L588.0,46.8 L588.9,44.7 L589.6,43.4 L590.3,40.8 L590.9,39.9 L591.6,40.2 L592.4,41.1 L593.3,41.9 L594.1,43.7 L595.0,46.4 L595.8,49.0 L596.6,51.4 L597.4,56.0 L598.2,58.9 L598.9,63.1 L599.6,68.1 L600.2,72.1 L600.9,77.0 L601.5,80.5 L602.2,85.6 L602.8,89.1 L603.6,93.5 L604.5,98.7 L605.5,103.5 L606.6,108.5 L607.6,113.1 L608.6,116.1 L609.5,117.9 L610.5,120.6 L611.6,123.3 L612.8,125.6 L614.1,128.2 L615.5,130.3 L616.2,130.9 L616.9,132.3 L617.7,134.2 L618.5,134.9 L619.3,136.6 L620.2,138.2 L621.0,138.9 L621.9,140.2 L622.7,141.1 L623.5,141.7 L624.3,143.1 L625.1,143.3 L625.8,144.4 L626.6,144.2 L628.0,145.7 L628.9,146.2" fill="none" stroke="#000" stroke-width="1.6" stroke-linejoin="round"/>
<text x="407.1" y="146.3" class="lb" text-anchor="middle">A</text>
<text x="401.2" y="161.5" class="lb" text-anchor="middle">C</text>
<text x="405.8" y="179.1" class="lb" text-anchor="middle">B</text>
<rect x="587.5" y="2.5" width="77" height="34.5" fill="#fff" stroke="#000" stroke-width="1"/>
<path d="M588,8.9 H607.4" stroke="#333" stroke-width="2"/>
<text x="610" y="11.9" class="lga" textLength="52.4" lengthAdjust="spacing">Position 1(A)</text>
<path d="M588,20.2 H607.4" stroke="#f44" stroke-width="1.2"/>
<text x="610" y="23.2" class="lga" textLength="52.4" lengthAdjust="spacing">Position 2(B)</text>
<path d="M588,32 H607.4" stroke="#44f" stroke-width="1.2"/>
<text x="610" y="35.0" class="lga" textLength="52.4" lengthAdjust="spacing">Position 3(C)</text>
<text transform="translate(356.2,141.6) rotate(-90)" class="yt" textLength="63.2" lengthAdjust="spacingAndGlyphs">Intensity (a.u.)</text>
<text x="472" y="239.3" class="xts" textLength="63.7" lengthAdjust="spacing">Raman Shift (cm</text>
<text x="538.7" y="231.5" class="xts">-1</text>
<text x="546.5" y="240" class="xts">)</text>
<text x="621.9" y="246.4" class="ttl"><tspan style="font-size:12.4px" dy="-0.9">(</tspan><tspan dy="0.9">b</tspan><tspan style="font-size:12.4px" dx="0.7" dy="-0.9">)</tspan></text>
<path d="M199.5,282.3 V460" fill="none" stroke="#000" stroke-width="1.2"/>
<path d="M196,456.5 H437.5" fill="none" stroke="#444" stroke-width="1"/>
<text x="192" y="458.8" class="tkc" text-anchor="end">0</text>
<path d="M197.7,443.5 H199.5" stroke="#222" stroke-width="1"/>
<path d="M196.0,429.5 H199.5" stroke="#222" stroke-width="1"/>
<text x="192" y="431.8" class="tkc" text-anchor="end">10000</text>
<path d="M197.7,416.5 H199.5" stroke="#222" stroke-width="1"/>
<path d="M196.0,402.5 H199.5" stroke="#222" stroke-width="1"/>
<text x="192" y="404.8" class="tkc" text-anchor="end">20000</text>
<path d="M197.7,389.5 H199.5" stroke="#222" stroke-width="1"/>
<path d="M196.0,376.5 H199.5" stroke="#222" stroke-width="1"/>
<text x="192" y="378.8" class="tkc" text-anchor="end">30000</text>
<path d="M197.7,362.5 H199.5" stroke="#222" stroke-width="1"/>
<path d="M196.0,349.5 H199.5" stroke="#222" stroke-width="1"/>
<text x="192" y="351.8" class="tkc" text-anchor="end">40000</text>
<path d="M197.7,335.5 H199.5" stroke="#222" stroke-width="1"/>
<path d="M196.0,322.5 H199.5" stroke="#222" stroke-width="1"/>
<text x="192" y="324.8" class="tkc" text-anchor="end">50000</text>
<path d="M197.7,309.5 H199.5" stroke="#222" stroke-width="1"/>
<path d="M196.0,295.5 H199.5" stroke="#222" stroke-width="1"/>
<text x="192" y="297.8" class="tkc" text-anchor="end">60000</text>
<path d="M197.7,282.5 H199.5" stroke="#222" stroke-width="1"/>
<path d="M199.5,456.5 V459.7" stroke="#222" stroke-width="1"/>
<text x="199.5" y="467.7" class="tkc" text-anchor="middle">200</text>
<path d="M214.5,456.5 V458.7" stroke="#222" stroke-width="1"/>
<path d="M229.5,456.5 V459.7" stroke="#222" stroke-width="1"/>
<text x="229.5" y="467.7" class="tkc" text-anchor="middle">400</text>
<path d="M244.5,456.5 V458.7" stroke="#222" stroke-width="1"/>
<path d="M258.5,456.5 V459.7" stroke="#222" stroke-width="1"/>
<text x="258.5" y="467.7" class="tkc" text-anchor="middle">600</text>
<path d="M273.5,456.5 V458.7" stroke="#222" stroke-width="1"/>
<path d="M288.5,456.5 V459.7" stroke="#222" stroke-width="1"/>
<text x="288.5" y="467.7" class="tkc" text-anchor="middle">800</text>
<path d="M303.5,456.5 V458.7" stroke="#222" stroke-width="1"/>
<path d="M318.5,456.5 V459.7" stroke="#222" stroke-width="1"/>
<text x="318.5" y="467.7" class="tkc" text-anchor="middle">1000</text>
<path d="M333.5,456.5 V458.7" stroke="#222" stroke-width="1"/>
<path d="M348.5,456.5 V459.7" stroke="#222" stroke-width="1"/>
<text x="348.5" y="467.7" class="tkc" text-anchor="middle">1200</text>
<path d="M362.5,456.5 V458.7" stroke="#222" stroke-width="1"/>
<path d="M377.5,456.5 V459.7" stroke="#222" stroke-width="1"/>
<text x="377.5" y="467.7" class="tkc" text-anchor="middle">1400</text>
<path d="M392.5,456.5 V458.7" stroke="#222" stroke-width="1"/>
<path d="M407.5,456.5 V459.7" stroke="#222" stroke-width="1"/>
<text x="407.5" y="467.7" class="tkc" text-anchor="middle">1600</text>
<path d="M422.5,456.5 V458.7" stroke="#222" stroke-width="1"/>
<path d="M437.5,456.5 V459.7" stroke="#222" stroke-width="1"/>
<text x="437.5" y="467.7" class="tkc" text-anchor="middle">1800</text>
<path d="M200.2,391.9 L200.9,391.9 L201.8,392.2 L202.9,392.1 L204.0,392.7 L205.1,393.4 L206.3,394.4 L207.4,395.6 L208.5,396.0 L209.5,396.2 L210.4,395.8 L211.3,395.4 L212.2,395.0 L213.0,394.4 L213.7,393.1 L214.5,392.4 L215.2,392.4 L215.9,393.3 L216.6,394.6 L217.4,396.0 L218.2,397.0 L219.1,396.2 L220.1,395.5 L221.0,394.0 L222.0,393.1 L222.9,392.6 L223.8,392.4 L224.7,392.4 L225.7,392.2 L226.8,392.4 L228.0,392.7 L229.2,393.0 L230.2,393.5 L231.0,394.2 L231.7,395.3 L232.4,396.4 L233.2,396.9 L234.3,396.0 L234.9,395.2 L235.5,394.5 L236.1,393.7 L236.7,392.9 L237.7,392.4 L238.4,392.8 L238.9,393.7 L239.4,395.2 L240.0,396.5 L240.8,398.2 L241.7,399.8 L242.6,401.2 L243.7,402.4 L244.3,402.1 L244.9,402.2 L245.6,402.1 L246.3,401.6 L247.0,401.3 L247.7,400.7 L248.3,400.6 L249.0,400.3 L250.2,399.6 L251.3,399.1 L252.5,398.3 L253.5,397.8 L254.5,397.1 L255.5,396.4 L256.4,395.7 L257.2,395.1 L257.7,394.8 L258.1,394.4 L258.4,393.8 L258.7,391.8 L259.0,388.7 L259.2,384.2 L259.3,379.5 L259.5,375.1 L259.6,370.7 L259.8,366.5 L259.9,363.2 L260.0,361.6 L260.1,363.0 L260.2,366.1 L260.3,370.3 L260.5,374.8 L260.7,380.4 L260.9,386.3 L261.3,392.2 L261.7,396.5 L262.3,398.7 L263.1,398.9 L263.9,398.9 L264.7,398.7 L265.5,398.6 L266.2,397.8 L267.0,397.2 L267.7,396.7 L268.2,397.1 L268.7,397.9 L269.2,399.0 L270.0,399.7 L270.6,399.6 L271.3,399.9 L272.0,400.1 L272.8,400.3 L273.6,400.6 L274.5,400.8 L275.2,400.8 L276.0,400.8 L276.7,401.1 L277.4,401.3 L278.1,401.6 L278.8,401.9 L279.5,401.8 L280.1,401.8 L281.2,401.0 L282.0,399.1 L282.6,395.9 L283.1,393.2 L283.5,390.6 L283.8,388.5 L284.1,386.5 L284.3,384.9 L284.5,384.5 L284.8,385.2 L285.0,387.3 L285.3,389.5 L285.7,391.8 L286.1,394.4 L286.5,397.2 L287.1,399.8 L288.0,401.5 L288.7,401.9 L289.4,402.3 L290.3,402.3 L291.2,402.4 L291.8,402.1 L292.5,402.3 L293.1,402.1 L293.7,401.8 L294.4,401.7 L295.0,401.6 L295.8,401.5 L296.7,401.3 L297.5,401.4 L298.3,401.2 L299.2,400.8 L300.1,400.6 L300.8,400.2 L301.6,400.0 L302.3,399.9 L303.0,399.7 L303.7,399.8 L304.4,399.4 L305.2,399.1 L305.8,399.3 L306.5,399.0 L307.2,398.7 L307.8,398.7 L308.5,398.3 L309.2,398.4 L309.8,398.4 L310.5,398.2 L311.2,398.0 L311.8,397.6 L312.5,397.5 L313.2,397.2 L313.9,397.2 L314.6,396.9 L315.2,396.8 L315.9,396.3 L316.5,396.0 L317.3,395.9 L318.0,395.5 L318.6,395.1 L319.3,394.7 L320.0,394.3 L320.8,393.9 L321.4,393.5 L322.0,393.4 L322.6,393.1 L323.3,392.7 L323.9,392.5 L324.6,392.4 L325.2,392.2 L325.9,392.1 L326.5,392.0 L327.2,391.4 L327.8,391.3 L328.5,391.0 L329.2,390.5 L329.8,389.8 L330.5,389.3 L331.2,388.8 L331.9,388.2 L332.5,387.7 L333.2,387.3 L333.8,386.8 L334.5,386.2 L335.3,385.3 L336.2,384.7 L336.9,384.1 L337.6,383.3 L338.2,383.0 L338.8,382.7 L339.9,381.5 L340.8,380.1 L341.5,378.1 L341.9,375.8 L342.4,373.5 L342.9,370.7 L343.6,367.6 L344.4,363.7 L345.2,360.1 L346.0,358.5 L346.8,359.6 L347.5,362.3 L348.3,365.3 L349.1,367.6 L350.0,368.7 L351.0,369.7 L352.0,369.8 L353.1,369.1 L354.3,368.1 L354.9,367.2 L355.5,366.1 L356.7,363.7 L357.7,361.5 L358.4,359.1 L359.0,356.8 L359.5,354.7 L360.0,352.1 L360.6,349.4 L361.1,347.0 L361.7,344.0 L362.2,341.1 L362.7,337.2 L363.2,332.4 L363.7,328.5 L364.2,326.5 L364.7,327.3 L365.3,330.3 L365.8,333.4 L366.3,335.9 L366.8,337.1 L367.3,338.5 L367.8,338.6 L368.3,337.9 L368.8,335.5 L369.4,332.0 L369.9,327.8 L370.4,324.8 L370.8,321.8 L371.1,319.2 L371.5,317.5 L371.8,317.2 L372.2,319.7 L372.6,323.6 L373.0,328.3 L373.4,332.9 L373.8,336.6 L374.3,340.6 L374.7,344.4 L375.1,347.1 L375.5,348.9 L375.8,350.2 L376.1,350.9 L376.5,351.3 L377.0,350.7 L377.4,350.0 L378.0,348.8 L378.6,348.1 L379.3,348.2 L380.1,348.3 L380.9,348.4 L381.6,348.3 L382.2,347.7 L382.6,346.6 L383.1,345.6 L383.7,344.1 L384.4,342.3 L385.3,340.1 L386.1,337.8 L386.8,335.9 L387.4,334.4 L387.9,333.3 L388.3,332.1 L388.8,330.9 L389.3,329.6 L389.8,328.2 L390.4,326.9 L390.9,324.8 L391.4,320.7 L391.9,315.1 L392.4,310.4 L392.9,308.6 L393.4,310.4 L393.9,315.1 L394.4,320.4 L395.0,324.7 L395.7,327.0 L396.4,328.5 L397.2,329.3 L398.0,330.6 L398.8,331.7 L399.6,332.5 L400.4,333.5 L401.1,333.8 L401.7,333.0 L402.2,332.1 L402.7,330.8 L403.1,330.5 L403.5,331.6 L403.9,333.3 L404.2,334.7 L404.6,335.6 L405.0,335.0 L405.4,333.4 L405.8,331.6 L406.2,330.4 L406.5,329.8 L406.7,328.8 L407.0,328.8 L407.2,329.5 L407.4,331.2 L407.7,334.1 L407.9,337.4 L408.2,340.7 L408.5,344.1 L408.7,348.4 L409.0,352.1 L409.3,355.3 L409.6,357.2 L410.0,359.1 L410.3,360.3 L410.7,361.3 L411.1,361.3 L411.5,360.8 L411.9,360.2 L412.3,359.4 L412.7,357.6 L413.2,355.0 L413.6,353.1 L414.0,353.2 L414.4,355.1 L414.7,358.7 L415.1,362.9 L415.4,367.2 L415.7,372.0 L415.9,377.0 L416.1,381.7 L416.4,386.0 L416.8,388.7 L417.3,390.9 L417.8,392.3 L418.5,394.1 L419.4,395.2 L420.4,396.5 L421.5,397.2 L422.6,398.0 L423.6,399.0 L424.7,399.9 L425.7,400.3 L426.7,401.1 L427.7,402.1 L428.8,402.9 L429.8,403.7 L430.8,404.6 L431.8,405.2 L432.9,406.0 L433.9,406.6 L434.9,407.2 L435.8,408.0 L436.7,408.4 L437.5,409.0 L438.0,409.3" fill="none" stroke="#00f" stroke-width="1" stroke-linejoin="round"/>
<path d="M200.2,422.6 L201.1,423.0 L201.8,422.7 L202.5,423.0 L203.2,422.8 L204.0,422.9 L204.8,423.3 L205.5,423.1 L206.3,423.4 L207.0,423.5 L207.8,423.8 L208.6,424.0 L209.4,424.0 L210.1,424.5 L210.8,424.1 L211.5,424.1 L212.6,423.1 L213.6,421.6 L214.4,420.3 L215.2,419.9 L215.8,420.3 L216.3,421.7 L216.9,423.3 L217.5,424.4 L218.3,423.8 L219.3,423.1 L220.2,421.9 L221.2,421.3 L222.1,420.7 L223.0,420.5 L224.0,420.3 L225.0,420.3 L226.1,420.4 L227.3,420.4 L228.4,420.6 L229.5,421.0 L230.5,422.3 L231.3,423.4 L232.2,424.4 L233.2,425.2 L234.3,424.4 L235.5,423.1 L236.7,421.9 L237.7,421.1 L238.6,421.7 L239.3,423.2 L240.0,424.4 L240.7,425.8 L241.4,426.3 L242.1,427.3 L242.8,427.8 L243.7,428.2 L244.9,428.2 L245.5,427.9 L246.2,427.7 L246.9,427.5 L247.6,427.5 L248.3,427.4 L249.0,427.0 L249.7,427.2 L250.3,426.9 L251.0,426.8 L251.7,426.4 L252.3,426.2 L253.0,425.9 L254.2,425.6 L255.3,425.1 L256.3,424.7 L257.2,424.1 L258.0,423.6 L258.6,423.5 L259.0,423.3 L259.2,422.7 L259.5,419.9 L259.7,413.9 L259.8,405.5 L259.9,396.7 L260.0,391.1 L260.1,388.4 L260.2,387.8 L260.4,389.1 L260.5,390.9 L260.6,394.4 L260.6,399.5 L260.8,405.0 L261.0,410.0 L261.4,414.3 L261.9,418.6 L262.6,422.3 L263.2,424.9 L263.9,426.2 L264.7,426.6 L265.5,426.5 L266.2,426.5 L266.7,426.1 L267.0,425.7 L267.3,424.9 L267.7,424.8 L268.1,425.2 L268.6,425.6 L269.1,426.4 L270.0,427.1 L270.6,427.4 L271.2,427.7 L272.0,428.0 L272.8,428.0 L273.6,428.4 L274.4,428.2 L275.2,428.7 L276.0,428.6 L276.8,429.2 L277.6,429.2 L278.4,430.0 L279.2,430.3 L280.0,430.6 L280.7,430.6 L281.4,429.9 L282.0,429.7 L282.9,425.8 L283.5,420.1 L284.0,415.3 L284.5,413.0 L284.9,415.2 L285.1,420.1 L285.6,425.6 L286.5,429.5 L287.3,430.1 L288.2,430.6 L288.9,430.7 L289.7,430.8 L290.4,430.8 L291.2,430.6 L292.0,430.3 L292.8,430.2 L293.5,430.0 L294.3,429.8 L295.0,429.8 L295.9,429.6 L296.8,429.7 L297.6,429.6 L298.4,429.4 L299.3,429.0 L300.2,428.9 L300.9,428.8 L301.6,428.6 L302.3,428.8 L303.0,428.6 L303.7,428.4 L304.4,428.4 L305.2,428.1 L305.8,428.0 L306.5,428.0 L307.2,428.0 L307.8,427.9 L308.5,427.6 L309.2,427.7 L309.8,427.7 L310.5,427.6 L311.2,427.6 L311.8,427.5 L312.5,427.1 L313.2,427.0 L313.9,426.9 L314.6,427.0 L315.2,426.6 L315.9,426.6 L316.5,426.4 L317.2,426.0 L317.9,425.8 L318.5,425.7 L319.2,425.3 L320.0,424.8 L320.8,424.7 L321.5,424.3 L322.2,424.1 L322.9,424.2 L323.7,423.9 L324.5,423.5 L325.3,423.3 L325.9,423.2 L326.5,423.1 L327.1,422.9 L327.7,422.8 L328.5,422.3 L329.2,422.0 L330.0,421.5 L330.7,420.9 L331.4,420.4 L332.1,419.9 L332.8,419.3 L333.5,418.7 L334.1,417.8 L334.8,417.1 L335.4,416.6 L336.0,415.7 L336.9,414.8 L337.7,413.6 L338.4,413.1 L339.1,412.0 L340.2,410.4 L341.3,408.8 L342.3,406.2 L343.3,402.2 L344.2,397.5 L345.1,393.0 L346.0,390.7 L347.0,392.1 L347.9,395.4 L349.0,399.2 L350.0,401.4 L351.2,402.3 L351.8,402.1 L352.4,402.1 L353.6,401.1 L354.6,400.1 L355.4,398.6 L356.0,396.5 L356.5,394.4 L357.0,392.1 L357.5,389.9 L358.0,387.4 L358.5,384.8 L359.1,381.9 L359.8,379.2 L360.6,376.1 L361.4,373.0 L362.2,370.7 L362.9,368.7 L363.5,366.7 L364.2,365.4 L364.8,365.0 L365.4,367.4 L366.1,371.2 L366.7,374.9 L367.3,376.7 L367.8,376.4 L368.3,375.2 L368.8,372.7 L369.3,369.8 L369.9,365.3 L370.5,359.8 L371.2,355.0 L371.8,353.4 L372.4,356.6 L372.9,362.9 L373.4,370.2 L373.9,375.7 L374.3,379.0 L374.6,381.3 L375.0,382.7 L375.5,384.1 L376.1,384.6 L376.9,384.6 L377.7,384.4 L378.6,384.0 L379.6,383.4 L380.7,382.6 L381.7,381.2 L382.7,379.8 L383.5,377.8 L384.3,375.2 L385.0,372.9 L385.7,370.5 L386.5,369.0 L387.3,368.0 L388.1,367.0 L388.8,365.7 L389.4,364.3 L389.9,362.9 L390.4,361.6 L390.9,359.5 L391.4,356.0 L391.9,351.7 L392.4,348.1 L392.9,346.3 L393.4,347.4 L393.9,350.1 L394.5,353.7 L395.0,356.4 L395.5,357.5 L396.0,358.5 L396.5,358.7 L397.0,359.6 L397.5,360.1 L398.1,360.7 L398.6,361.3 L399.1,362.2 L399.6,362.9 L400.1,364.0 L400.6,364.8 L401.1,365.1 L401.6,364.9 L402.2,363.9 L402.7,362.8 L403.2,362.1 L403.7,361.4 L404.2,360.8 L404.7,360.3 L405.2,359.2 L405.7,357.0 L406.3,354.7 L406.8,352.2 L407.2,351.2 L407.5,351.4 L407.8,352.9 L408.0,354.7 L408.2,357.0 L408.5,359.7 L408.7,362.8 L409.0,366.1 L409.3,369.5 L409.6,373.2 L409.9,377.6 L410.2,381.6 L410.5,384.9 L410.8,387.4 L411.1,388.6 L411.5,389.7 L411.8,390.0 L412.1,389.4 L412.4,388.5 L412.8,387.0 L413.1,386.5 L413.5,386.8 L413.9,387.2 L414.3,388.6 L414.6,390.3 L414.8,393.4 L414.9,397.5 L415.0,401.4 L415.2,405.3 L415.5,407.7 L415.8,410.3 L416.1,412.5 L416.5,414.5 L416.9,415.9 L417.2,417.5 L417.7,418.6 L418.3,419.8 L419.0,421.1 L419.9,422.6 L420.9,424.0 L422.0,425.3 L422.6,426.0 L423.3,426.8 L424.0,427.2 L424.7,428.0 L425.4,428.3 L426.1,428.9 L426.8,429.6 L427.5,430.2 L428.7,430.7 L429.8,431.3 L430.9,431.9 L432.1,432.3 L432.8,432.5 L433.6,432.7 L434.4,432.6 L435.2,432.8 L435.9,432.8 L436.7,432.8 L437.7,432.8" fill="none" stroke="#000" stroke-width="1" stroke-linejoin="round"/>
<path d="M200.2,437.7 L201.0,437.4 L202.1,436.9 L202.8,437.1 L203.4,436.6 L204.1,436.7 L204.7,436.9 L205.3,436.7 L206.0,437.1 L206.6,437.5 L207.3,437.6 L208.0,438.0 L208.7,438.5 L209.3,438.4 L210.0,438.6 L210.7,438.0 L211.4,437.7 L212.1,437.0 L212.7,436.5 L213.4,436.1 L214.1,435.3 L215.2,434.8 L216.1,435.1 L216.7,436.3 L217.3,437.1 L218.2,437.6 L218.8,437.5 L219.4,437.2 L220.1,436.4 L220.8,435.7 L221.5,435.1 L222.2,434.4 L222.9,434.0 L223.5,433.8 L224.5,433.3 L225.4,433.7 L226.3,434.0 L227.2,434.1 L228.2,435.1 L229.3,436.3 L230.5,437.1 L231.1,437.5 L231.7,437.9 L232.4,437.2 L233.0,437.1 L233.7,436.2 L234.4,435.7 L235.1,435.2 L235.8,434.2 L237.0,433.5 L237.9,433.9 L238.6,434.9 L239.2,435.9 L240.0,436.8 L241.0,437.8 L242.1,438.8 L243.2,439.3 L243.9,439.5 L244.5,439.8 L245.2,439.5 L245.9,439.7 L246.7,439.4 L247.5,439.4 L248.3,439.3 L249.1,438.7 L249.8,438.7 L250.5,438.5 L251.1,438.3 L251.8,438.2 L252.9,438.3 L254.0,438.0 L255.0,436.8 L255.9,435.7 L256.7,434.1 L257.4,431.8 L258.0,429.5 L258.5,426.3 L258.9,422.9 L259.3,419.6 L259.6,417.0 L259.8,415.7 L259.9,414.7 L260.1,414.7 L260.2,415.1 L260.4,415.5 L260.5,416.3 L260.7,417.7 L261.0,420.2 L261.3,423.8 L261.6,428.5 L262.0,433.6 L262.5,436.9 L263.2,438.7 L264.0,439.2 L264.8,439.3 L265.5,439.1 L266.1,438.6 L266.6,437.9 L267.2,436.9 L267.7,436.8 L268.2,437.0 L268.6,438.2 L269.2,439.3 L270.0,440.0 L270.6,440.3 L271.2,440.4 L272.0,440.7 L272.8,440.8 L273.6,440.8 L274.4,441.2 L275.2,441.1 L276.0,441.1 L276.8,441.6 L277.6,441.7 L278.4,442.3 L279.2,442.5 L280.0,442.8 L280.8,442.7 L281.4,442.0 L282.0,441.7 L282.8,437.1 L283.3,431.2 L283.7,425.5 L284.2,422.7 L284.6,424.8 L285.0,430.3 L285.5,436.4 L286.5,440.7 L287.4,441.5 L288.2,442.3 L289.0,442.1 L289.7,442.1 L290.4,442.3 L291.2,442.0 L292.0,441.8 L292.8,441.8 L293.5,441.8 L294.3,441.4 L295.0,441.5 L295.9,441.6 L296.8,441.6 L297.6,441.3 L298.4,441.5 L299.3,441.1 L300.2,441.2 L300.9,441.1 L301.6,441.1 L302.3,440.9 L303.0,440.7 L303.7,440.6 L304.4,440.8 L305.2,440.6 L305.8,440.8 L306.5,440.5 L307.2,440.8 L307.8,440.5 L308.5,440.4 L309.2,440.4 L309.8,440.5 L310.5,440.5 L311.2,440.4 L311.8,440.3 L312.5,440.3 L313.2,440.4 L313.9,440.1 L314.6,440.2 L315.2,439.6 L315.9,439.8 L316.5,439.5 L317.2,438.9 L317.9,438.5 L318.5,438.1 L319.2,437.8 L320.0,437.1 L320.8,437.0 L321.5,436.8 L322.2,436.6 L322.9,436.6 L323.7,436.6 L324.4,436.2 L325.2,436.4 L325.8,436.3 L326.4,436.2 L327.0,436.2 L327.6,435.9 L328.4,435.9 L329.2,435.6 L330.0,435.6 L330.6,435.0 L331.2,434.9 L331.8,434.6 L332.4,434.3 L333.0,434.0 L333.6,433.3 L334.3,433.1 L334.9,432.7 L335.7,432.2 L336.4,431.5 L337.2,430.8 L337.9,430.3 L338.5,429.8 L339.2,429.1 L340.0,428.1 L340.7,427.3 L341.3,426.4 L341.9,425.5 L342.9,423.3 L343.8,421.6 L344.5,419.1 L344.9,416.6 L345.4,414.2 L346.0,414.0 L346.9,415.4 L347.9,418.8 L348.9,422.3 L350.0,424.7 L351.1,425.8 L352.3,426.8 L353.5,427.1 L354.6,427.1 L355.6,426.1 L356.5,424.7 L357.4,422.8 L358.3,420.6 L359.2,418.5 L360.0,415.7 L360.8,412.4 L361.6,409.4 L362.4,405.5 L363.1,401.3 L363.8,397.6 L364.5,396.0 L365.1,396.6 L365.6,399.4 L366.0,402.7 L366.5,405.1 L366.9,406.9 L367.3,408.7 L367.7,409.3 L368.1,409.1 L368.5,407.7 L368.9,404.6 L369.4,401.2 L369.8,398.0 L370.3,393.9 L370.8,389.1 L371.3,385.2 L371.7,383.8 L372.1,385.7 L372.4,390.0 L372.7,395.2 L373.0,399.6 L373.4,403.7 L373.8,407.8 L374.2,411.6 L374.7,414.5 L375.3,416.3 L375.9,416.9 L376.5,417.3 L377.1,417.4 L377.7,417.0 L378.2,415.9 L378.8,414.7 L379.3,414.4 L379.8,414.8 L380.2,415.9 L380.7,417.0 L381.2,417.5 L381.8,416.9 L382.4,415.5 L383.0,413.9 L383.7,412.5 L384.5,411.4 L385.3,410.3 L386.2,409.2 L387.0,408.5 L387.8,408.1 L388.7,408.3 L389.5,408.1 L390.2,406.8 L390.8,404.6 L391.4,401.3 L391.9,397.8 L392.4,394.6 L392.8,391.1 L393.2,387.2 L393.5,384.1 L393.9,383.0 L394.3,385.4 L394.8,390.0 L395.2,395.1 L395.7,399.5 L396.1,402.3 L396.6,404.6 L397.0,406.2 L397.6,407.8 L398.3,408.7 L399.2,409.2 L400.0,409.7 L400.8,409.6 L401.5,409.4 L402.2,408.6 L402.9,407.9 L403.5,408.0 L404.0,408.0 L404.5,408.8 L405.0,409.5 L405.4,409.5 L405.8,408.5 L406.2,406.3 L406.5,404.4 L406.9,404.1 L407.3,406.6 L407.8,410.4 L408.2,414.5 L408.7,418.1 L409.1,420.1 L409.6,421.8 L410.0,422.9 L410.5,423.5 L411.0,423.3 L411.5,422.9 L411.9,421.8 L412.4,419.8 L412.9,416.5 L413.3,412.6 L413.8,408.3 L414.2,406.0 L414.6,405.3 L414.9,405.5 L415.2,406.8 L415.5,408.8 L415.8,412.0 L416.0,416.5 L416.3,421.4 L416.5,425.5 L416.7,428.2 L416.9,430.7 L417.1,433.0 L417.4,434.5 L417.7,436.0 L418.1,436.9 L418.5,437.8 L419.2,438.1 L420.1,438.8 L421.3,439.5 L421.9,439.6 L422.5,439.6 L423.2,439.8 L423.8,440.0 L424.5,440.3 L425.2,440.5 L425.9,440.4 L426.7,440.5 L427.4,440.7 L428.1,440.7 L428.8,441.0 L429.4,441.2 L430.4,441.5 L431.3,441.7 L432.2,442.0 L433.1,442.1 L434.3,442.7 L435.0,442.7 L435.6,442.9 L436.2,443.1 L436.9,443.4 L437.7,443.4" fill="none" stroke="#f00" stroke-width="1" stroke-linejoin="round"/>
<path d="M260.2,396 V362" stroke="#00f" stroke-width="1.6"/>
<path d="M260.2,421 V391" stroke="#000" stroke-width="1.8"/>
<text x="434" y="429.4" class="lbc" text-anchor="middle">A</text>
<text x="430.8" y="440.5" class="lbc" text-anchor="middle">B</text>
<text x="434" y="406.3" class="lbc" text-anchor="middle">C</text>
<text transform="translate(263.2,355.6) rotate(-90)" class="pk" textLength="13.3" lengthAdjust="spacingAndGlyphs">613</text>
<text transform="translate(289.2,381.2) rotate(-90)" class="pk" textLength="13.3" lengthAdjust="spacingAndGlyphs">775</text>
<text transform="translate(348.6,353.8) rotate(-90)" class="pk" textLength="18.4" lengthAdjust="spacingAndGlyphs">1185</text>
<text transform="translate(375.9,315.3) rotate(-90)" class="pk" textLength="17.9" lengthAdjust="spacingAndGlyphs">1358</text>
<text transform="translate(397.7,307.7) rotate(-90)" class="pk" textLength="18.0" lengthAdjust="spacingAndGlyphs">1510</text>
<text transform="translate(418.6,350.0) rotate(-90)" class="pk" textLength="17.5" lengthAdjust="spacingAndGlyphs">1645</text>
<rect x="399.5" y="266.5" width="78" height="34.7" fill="#fff" stroke="#000" stroke-width="1"/>
<path d="M401.9,273.5 H418.1" stroke="#000" stroke-width="1"/>
<text x="421" y="276.2" class="lgc" textLength="54.3" lengthAdjust="spacing">Position 1(A)</text>
<path d="M401.9,285.5 H418.1" stroke="#f00" stroke-width="1"/>
<text x="421" y="288.2" class="lgc" textLength="54.3" lengthAdjust="spacing">Position 2(B)</text>
<path d="M401.9,297.5 H418.1" stroke="#00f" stroke-width="1"/>
<text x="421" y="300.2" class="lgc" textLength="54.3" lengthAdjust="spacing">Position 3(C)</text>
<text transform="translate(161.6,396.9) rotate(-90)" class="yt" textLength="62" lengthAdjust="spacingAndGlyphs">Intensity (a.u.)</text>
<text x="280.2" y="486.8" class="xt" textLength="63" lengthAdjust="spacing">Raman Shift (cm</text>
<text x="345.5" y="479" class="xt">-1</text>
<text x="353.5" y="486.6" class="xt">)</text>
<text x="445.7" y="485.8" class="ttl"><tspan style="font-size:12.4px" dy="-0.9">(</tspan><tspan dy="0.9">c</tspan><tspan style="font-size:12.4px" dx="0.7" dy="-0.9">)</tspan></text>
</svg></body></html>
